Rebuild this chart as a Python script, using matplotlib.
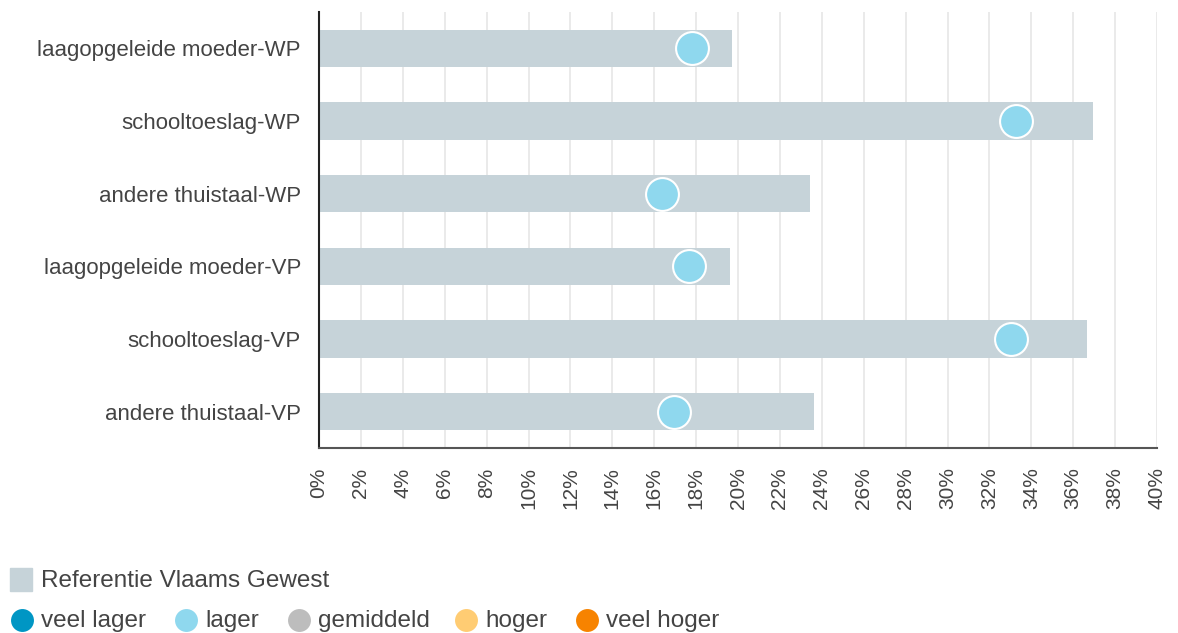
import matplotlib.pyplot as plt
from matplotlib.lines import Line2D
from matplotlib.patches import Rectangle
from matplotlib.ticker import MultipleLocator, FuncFormatter

plt.rcParams['font.family'] = ['Liberation Sans', 'DejaVu Sans']

categories = ["laagopgeleide moeder-WP", "schooltoeslag-WP", "andere thuistaal-WP",
              "laagopgeleide moeder-VP", "schooltoeslag-VP", "andere thuistaal-VP"]
reference = [19.7, 36.95, 23.45, 19.6, 36.65, 23.65]
school = [17.8, 33.25, 16.35, 17.65, 33.05, 16.95]

legend_labels = ["veel lager", "lager", "gemiddeld", "hoger", "veel hoger"]
legend_colors = ["#0096c4", "#8fd8ee", "#bdbdbd", "#ffcc73", "#f78300"]

bar_color = "#c6d3d9"
text_color = "#444444"

fig = plt.figure(figsize=(11.78, 6.33), dpi=100)
ax = fig.add_axes([0.2708, 0.2923, 0.7114, 0.6887])

y = list(range(len(categories)))
ax.barh(y, reference, height=0.51, color=bar_color, zorder=2)
ax.scatter(school, y, s=560, color=legend_colors[1], edgecolor="white", linewidth=1.5, zorder=3)

ax.set_xlim(0, 40)
ax.set_ylim(len(categories) - 0.5, -0.5)
ax.set_yticks(y)
ax.set_yticklabels(categories, fontsize=16, color=text_color)
ax.xaxis.set_major_locator(MultipleLocator(2))
ax.xaxis.set_major_formatter(FuncFormatter(lambda v, p: f"{v:.0f}%"))
ax.tick_params(axis="x", rotation=90, labelsize=15, colors=text_color, length=0, pad=14)
ax.tick_params(axis="y", length=0, pad=13)
ax.grid(axis="x", color="#e6e6e6", linewidth=1.2, zorder=0)
ax.set_axisbelow(True)
for s in ["top", "right"]:
    ax.spines[s].set_visible(False)
ax.spines["left"].set_color("#222222")
ax.spines["left"].set_linewidth(1.5)
ax.spines["bottom"].set_color("#555555")
ax.spines["bottom"].set_linewidth(1.5)

# legend
W, H = 1178, 633
fig.add_artist(Rectangle((10 / W, 1 - 591 / H), 22 / W, 23 / H, transform=fig.transFigure,
                         color=bar_color))
fig.text(41 / W, 1 - 581 / H, "Referentie Vlaams Gewest", fontsize=17.5, color=text_color,
         va="center", ha="left")
xs = [22, 186, 299, 466, 587]
for x, lab, col in zip(xs, legend_labels, legend_colors):
    fig.add_artist(Line2D([x / W], [1 - 620 / H], marker="o", markersize=16.5, color=col,
                          markeredgewidth=0, transform=fig.transFigure))
    fig.text((x + 19) / W, 1 - 621 / H, lab, fontsize=17.5, color=text_color, va="center", ha="left")

fig.savefig("out.png", dpi=100)
